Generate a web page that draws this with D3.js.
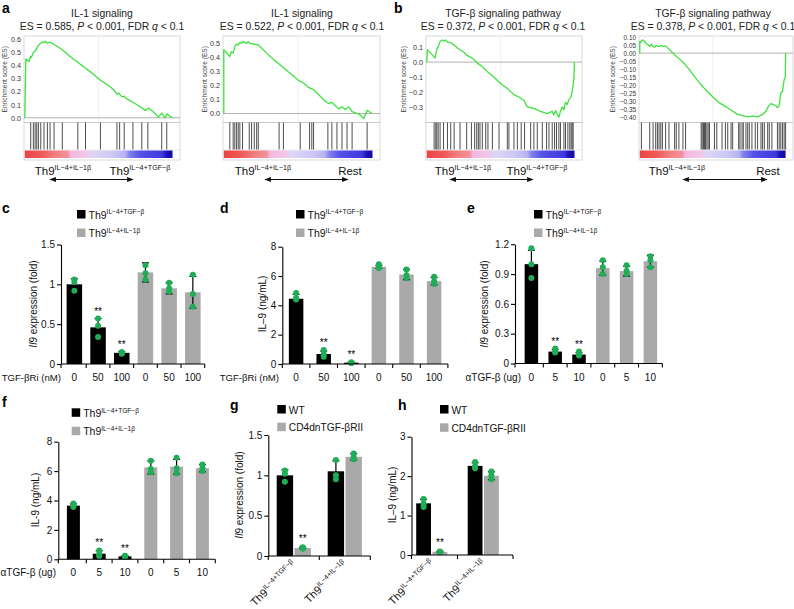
<!DOCTYPE html>
<html><head><meta charset="utf-8">
<script src="https://cdn.jsdelivr.net/npm/d3@7"></script>
<style>
body{margin:0;background:#fff;}
svg{display:block;font-family:"Liberation Sans",Arial,Helvetica,sans-serif;}
</style></head><body>
<svg id="chart" width="794" height="609"></svg>
<script>
// ===================== DATA =====================
// GSEA running enrichment score curves: [rank %, ES]
const curveA1 = [[0,0],[0.7,0.45],[2.9,0.43],[4.0,0.47],[4.5,0.46],[5.8,0.5],[7.0,0.51],[8.1,0.53],[9.2,0.555],[10.8,0.57],[11.9,0.58],[13,0.575],[14.1,0.585],[15.3,0.57],[17.1,0.578],[19.8,0.56],[22,0.545],[25.4,0.52],[28.7,0.487],[33.2,0.446],[35.9,0.425],[37.7,0.408],[41.1,0.38],[42.2,0.37],[46.7,0.33],[51.2,0.287],[55.7,0.254],[60.2,0.215],[62.4,0.18],[63.5,0.19],[65.8,0.16],[67.3,0.165],[69.1,0.144],[72.5,0.123],[75.9,0.1],[79.2,0.077],[81.5,0.056],[83.7,0.074],[87.1,0.044],[90.5,0.005],[92.7,0.036],[95,0.0],[96.1,0.03],[97.2,0.02],[100,0]];
const hitsA1 = [4.0,5.8,7.0,8.1,9.2,10.8,13.0,15.3,17.1,19.8,25.4,35.9,41.1,51.2,62.4,64.2,67.3,73.2,79.2,83.3,92.7,96.1];

const curveA2 = [[0,0],[0,0.453],[1.8,0.434],[4.05,0.405],[5.2,0.44],[6.3,0.43],[7.4,0.476],[8.6,0.495],[9.7,0.488],[10.8,0.505],[11.9,0.5],[13.1,0.514],[14.2,0.505],[15.3,0.5],[16.4,0.512],[17.6,0.5],[19.8,0.495],[23.2,0.488],[25.5,0.465],[28.8,0.43],[33.3,0.387],[37.8,0.347],[42.3,0.307],[46.8,0.269],[50.2,0.236],[53.6,0.217],[57,0.186],[60.4,0.17],[62.6,0.146],[64.9,0.123],[68.2,0.087],[70.5,0.071],[72.7,0.08],[75,0.057],[77.3,0.033],[79.5,0.047],[81.8,0.028],[84,0.047],[86.3,0.014],[88.5,0.005],[91.4,-0.007],[94.1,-0.035],[96.4,0.024],[97.5,0.014],[99.8,0]];
const hitsA2 = [4.05,6.3,7.4,8.6,9.7,10.8,12.6,17.1,18.7,20.5,22.1,23.2,37.2,40.1,51.4,57.7,59.2,60.4,70.0,72.7,76.1,79.5,82.9,86.3,96.4];

const curveB1 = [[0,0],[0.45,0.084],[5.6,0.027],[6.8,0.084],[7.9,0.107],[9.0,0.14],[10.6,0.148],[11.7,0.141],[12.8,0.148],[14.0,0.134],[16.2,0.13],[18.5,0.114],[20.7,0.095],[23.0,0.08],[25.2,0.066],[27.5,0.043],[29.7,0.034],[32.0,0.016],[34.2,-0.007],[37.6,-0.03],[41.0,-0.064],[45.5,-0.102],[50.0,-0.143],[54.5,-0.177],[59.0,-0.218],[62.4,-0.234],[65.8,-0.257],[68.0,-0.3],[72.5,-0.31],[77.0,-0.33],[81.5,-0.345],[84.9,-0.33],[86.0,-0.355],[87.2,-0.325],[88.3,-0.35],[89.4,-0.37],[90.5,-0.33],[91.7,-0.3],[92.8,-0.32],[93.9,-0.27],[95.0,-0.285],[96.2,-0.25],[97.3,-0.24],[98.4,-0.2],[99.5,-0.12],[100,0]];
const hitsB1 = [4.95,6.1,6.8,7.7,9.0,11.3,14.0,16.2,18.5,22.5,27.0,30.2,32.4,33.8,34.9,36.0,37.6,39.9,41.4,44.4,48.9,54.5,55.6,59.0,61.3,63.9,66.2,70.3,72.5,74.8,78.2,81.1,82.7,84.9,86.5,87.8,89.4,90.5,92.8,93.9,95.5,96.8,97.7,98.4,99.1];

const curveB2 = [[0,0],[0,0.072],[0.5,0.066],[1.8,0.082],[3.4,0.072],[4.6,0.057],[5.7,0.051],[6.8,0.041],[8.0,0.055],[9.1,0.041],[10.2,0.037],[11.4,0.047],[13.2,0.041],[14.8,0.047],[16.0,0.041],[17.7,0.045],[19.3,0.031],[21.6,0.01],[23.9,-0.01],[27.3,-0.037],[30.7,-0.066],[34.1,-0.103],[37.5,-0.144],[41.0,-0.185],[45.5,-0.23],[50.1,-0.271],[54.6,-0.308],[59.2,-0.332],[63.7,-0.359],[67.1,-0.379],[70.5,-0.386],[74.0,-0.394],[77.4,-0.39],[80.8,-0.394],[84.2,-0.379],[86.5,-0.359],[88.3,-0.328],[89.9,-0.312],[91.5,-0.318],[93.3,-0.324],[94.4,-0.338],[95.6,-0.324],[96.7,-0.246],[97.9,-0.236],[99.0,-0.164],[99.7,-0.154],[99.85,-0.082],[100,0]];
const hitsB2 = [1.1,6.8,9.1,10.9,12.1,13.2,14.4,15.5,17.7,20.0,23.9,25.0,26.8,29.6,31.4,42.1,42.8,43.7,44.4,45.1,46.0,46.9,47.8,51.2,52.8,56.4,58.7,60.3,62.6,63.7,67.8,68.7,70.1,71.0,72.8,74.0,75.1,76.9,79.2,80.8,83.1,84.2,85.4,87.7,88.8,90.6,94.4,95.6,96.7,97.9,99.0,100];

const esTicksA1 = [0,0.1,0.2,0.3,0.4,0.5,0.6];
const esTicksA2 = [0,0.1,0.2,0.3,0.4,0.5];
const esTicksB1 = [0.1,0,-0.1,-0.2,-0.3];
const esTicksB2 = [0.10,0.05,0,-0.05,-0.10,-0.15,-0.20,-0.25,-0.30,-0.35,-0.40];
const gseaES = ["0.585","0.522","0.372","0.378"];

// Ranked-list colour bar stops (fraction, colour)
const rankBarStops = [[0,"#ee4343"],[0.12,"#f05a5a"],[0.2,"#f27e7e"],[0.29,"#f48f9a"],[0.31,"#f5b6de"],[0.42,"#f0c8ea"],[0.46,"#dcd6f6"],[0.6,"#ccc7f5"],[0.68,"#b7b2f2"],[0.71,"#8280ef"],[0.78,"#5652e8"],[0.93,"#4038de"],[0.96,"#1d12b2"],[1,"#1208a6"]];

// Bar panels: groups 0 = Th9 IL-4+TGF-β (black), 1 = Th9 IL-4+IL-1β (gray)
const barGroups = [0,0,0,1,1,1];
const cLabels = ["0","50","100","0","50","100"];
const cMeans = [1.00,0.46,0.14,1.15,0.95,0.90];
const cErr   = [0.07,0.11,0.015,0.12,0.07,0.20];
const cDots  = [[1.06,1.03,0.92],[0.57,0.48,0.34],[0.15,0.14,0.13],[1.24,1.14,1.06],[1.02,0.95,0.91],[1.12,0.88,0.72]];
const cStars = [0,1,1,0,0,0];
const cTicks = [0,0.5,1,1.5];

const dLabels = ["0","50","100","0","50","100"];
const dMeans = [4.45,0.68,0.09,6.63,6.10,5.65];
const dErr   = [0.30,0.20,0.03,0.10,0.35,0.25];
const dDots  = [[4.85,4.5,4.4],[0.95,0.68,0.5],[0.12,0.09,0.06],[6.8,6.65,6.55],[6.45,6.05,5.85],[5.95,5.65,5.45]];
const dStars = [0,1,1,0,0,0];
const dTicks = [0,2,4,6,8];

const eLabels = ["0","5","10","0","5","10"];
const eMeans = [1.00,0.12,0.09,0.96,0.93,1.03];
const eErr   = [0.14,0.02,0.02,0.07,0.05,0.06];
const eDots  = [[1.16,1.0,0.86],[0.15,0.12,0.11],[0.12,0.09,0.08],[1.04,0.97,0.90],[0.99,0.93,0.90],[1.08,1.04,0.97]];
const eStars = [0,1,1,0,0,0];
const eTicks = [0,0.3,0.6,0.9,1.2];

const fLabels = ["0","5","10","0","5","10"];
const fMeans = [3.65,0.38,0.20,6.25,6.30,6.20];
const fErr   = [0.12,0.20,0.05,0.45,0.50,0.25];
const fDots  = [[3.8,3.65,3.55],[0.6,0.35,0.2],[0.25,0.2,0.15],[6.7,6.15,5.9],[6.9,6.2,5.85],[6.45,6.2,6.0]];
const fStars = [0,1,1,0,0,0];
const fTicks = [0,2,4,6,8];

// g / h: groups = Th9 IL-4+TGF-β, Th9 IL-4+IL-1β ; series WT (black), CD4dnTGF-βRII (gray)
const ghGroupSup = ["IL−4+TGF−β","IL−4+IL−1β"];
const gWT = [1.00,1.05], gWTErr = [0.07,0.13], gWTDots = [[1.06,1.02,0.92],[1.19,1.0,0.95]];
const gDN = [0.10,1.23], gDNErr = [0.01,0.04], gDNDots = [[0.11,0.10,0.09],[1.27,1.23,1.20]];
const gStars = [[0,0],[1,0]];
const gTicks = [0,0.5,1,1.5];
const hWT = [1.31,2.26], hWTErr = [0.10,0.08], hWTDots = [[1.42,1.30,1.22],[2.36,2.25,2.20]];
const hDN = [0.08,2.01], hDNErr = [0.01,0.10], hDNDots = [[0.09,0.08,0.07],[2.12,2.02,1.92]];
const hStars = [[0,0],[1,0]];
const hTicks = [0,1,2,3];

// ===================== DRAWING =====================
const svg = d3.select("#chart");
const defs = svg.append("defs");
const GREEN_DOT = "#1fae57";
const GRAY = "#a9a9a9";
const barColors = ["#000000", GRAY];

defs.append("marker").attr("id","arr").attr("viewBox","0 0 10 10")
  .attr("refX",9).attr("refY",5).attr("markerWidth",5.5).attr("markerHeight",5.5)
  .attr("orient","auto-start-reverse")
  .append("path").attr("d","M0,1.2 L10,5 L0,8.8 z").attr("fill","#111");

function addTh9(parent, x, y, sup, size, supSize, anchor) {
  const t = parent.append("text").attr("x", x).attr("y", y)
    .attr("font-size", size).attr("text-anchor", anchor || "start").attr("fill", "#111");
  t.append("tspan").text("Th9");
  t.append("tspan").attr("font-size", supSize).attr("dy", -size * 0.4).text(sup);
  return t;
}

function panelLetter(t, x, y) {
  svg.append("text").attr("x", x).attr("y", y).attr("font-size", 14)
    .attr("font-weight", "bold").attr("fill", "#000").text(t);
}

// ---------- GSEA panels ----------
const gseaCfg = [
  {L:24, R:180, dom:[-0.036,0.625], ticks:esTicksA1, fmt:".1f", curve:curveA1, hits:hitsA1, title:"IL-1 signaling", es:gseaES[0], tcx:102, ylx:7,
   left:{cx:63, sup:"IL−4+IL−1β"}, right:{cx:140, sup:"IL−4+TGF−β"}, arrow:[50,133]},
  {L:223, R:380, dom:[-0.064,0.552], ticks:esTicksA2, fmt:".1f", curve:curveA2, hits:hitsA2, title:"IL-1 signaling", es:gseaES[1], tcx:302, ylx:207,
   left:{cx:263, sup:"IL−4+IL−1β"}, right:{cx:350, rest:true}, arrow:[265,348]},
  {L:426, R:582, dom:[-0.405,0.175], ticks:esTicksB1, fmt:".1f", curve:curveB1, hits:hitsB1, title:"TGF-β signaling pathway", es:gseaES[2], tcx:503, ylx:405.5,
   left:{cx:463, sup:"IL−4+IL−1β"}, right:{cx:537, sup:"IL−4+TGF−β"}, arrow:[450,533]},
  {L:639, R:793, dom:[-0.429,0.106], ticks:esTicksB2, fmt:".2f", curve:curveB2, hits:hitsB2, title:"TGF-β signaling pathway", es:gseaES[3], tcx:713, ylx:615,
   left:{cx:677, sup:"IL−4+IL−1β"}, right:{cx:768, rest:true}, arrow:[683,767]}
];

const TOP = 36, ESBOT = 122.5, HITBOT = 150, CBTOP = 150.5, CBBOT = 158, BOXBOT = 160;

gseaCfg.forEach((c, k) => {
  const g = svg.append("g");
  const x = d3.scaleLinear().domain([0,100]).range([c.L + 0.8, c.L + (c.R - c.L) * 0.952]);
  const y = d3.scaleLinear().domain(c.dom).range([ESBOT, TOP]);
  g.append("rect").attr("x", c.L).attr("y", TOP).attr("width", c.R - c.L).attr("height", BOXBOT - TOP)
    .attr("fill", "none").attr("stroke", "#cfcfcf").attr("stroke-width", 0.8);
  g.append("line").attr("x1", c.L).attr("x2", c.R).attr("y1", ESBOT).attr("y2", ESBOT)
    .attr("stroke", "#bdbdbd").attr("stroke-width", 0.8);
  g.append("line").attr("x1", c.L).attr("x2", c.R).attr("y1", HITBOT).attr("y2", HITBOT)
    .attr("stroke", "#dddddd").attr("stroke-width", 0.6);
  g.append("line").attr("x1", x(50)).attr("x2", x(50)).attr("y1", TOP).attr("y2", ESBOT)
    .attr("stroke", "#ececec").attr("stroke-width", 0.8);
  g.append("line").attr("x1", c.L).attr("x2", c.R).attr("y1", y(0)).attr("y2", y(0))
    .attr("stroke", "#a8a8a8").attr("stroke-width", 0.9);
  const ax = g.append("g").attr("transform", `translate(${c.L},0)`)
    .call(d3.axisLeft(y).tickValues(c.ticks).tickFormat(d3.format(c.fmt)).tickSize(0).tickPadding(3));
  ax.select(".domain").remove();
  ax.selectAll("text").attr("font-size", c.fmt === ".2f" ? 6.4 : 7.2).attr("fill", "#333")
    .attr("font-family", '"Liberation Sans", Arial, sans-serif');
  g.append("text").attr("transform", `translate(${c.ylx},${(TOP + ESBOT) / 2}) rotate(-90)`)
    .attr("text-anchor", "middle").attr("font-size", 6.6).attr("fill", "#444").text("Enrichment score (ES)");
  g.append("path").datum(c.curve)
    .attr("d", d3.line().x(d => x(d[0])).y(d => y(d[1])))
    .attr("fill", "none").attr("stroke", "#3fe23f").attr("stroke-width", 1.3).attr("stroke-linejoin", "round");
  g.selectAll("line.hit").data(c.hits).join("line").attr("class", "hit")
    .attr("x1", d => x(d)).attr("x2", d => x(d)).attr("y1", ESBOT).attr("y2", HITBOT - 0.5)
    .attr("stroke", "#3a3a3a").attr("stroke-width", 0.9);
  const gid = "rk" + k;
  const lg = defs.append("linearGradient").attr("id", gid).attr("x1", "0").attr("x2", "1").attr("y1", "0").attr("y2", "0");
  rankBarStops.forEach(s => lg.append("stop").attr("offset", s[0]).attr("stop-color", s[1]));
  g.append("rect").attr("x", x(0)).attr("y", CBTOP).attr("width", x(100) - x(0)).attr("height", CBBOT - CBTOP)
    .attr("fill", `url(#${gid})`);
  g.append("text").attr("x", c.tcx).attr("y", 16.5).attr("text-anchor", "middle")
    .attr("font-size", 10.4).attr("fill", "#222").text(c.title);
  const t2 = g.append("text").attr("x", c.tcx).attr("y", 29.5).attr("text-anchor", "middle")
    .attr("font-size", 10.4).attr("fill", "#222");
  t2.append("tspan").text(`ES = ${c.es}, `);
  t2.append("tspan").attr("font-style", "italic").text("P");
  t2.append("tspan").text(" < 0.001, FDR ");
  t2.append("tspan").attr("font-style", "italic").text("q");
  t2.append("tspan").text(" < 0.1");
  addTh9(g, c.left.cx, 175, c.left.sup, 11.5, 7.2, "middle");
  if (c.right.rest) {
    g.append("text").attr("x", c.right.cx).attr("y", 175).attr("text-anchor", "middle")
      .attr("font-size", 11.5).attr("fill", "#111").text("Rest");
  } else {
    addTh9(g, c.right.cx, 175, c.right.sup, 11.5, 7.2, "middle");
  }
  g.append("line").attr("x1", c.arrow[0]).attr("x2", c.arrow[1]).attr("y1", 179.5).attr("y2", 179.5)
    .attr("stroke", "#111").attr("stroke-width", 1.2)
    .attr("marker-start", "url(#arr)").attr("marker-end", "url(#arr)");
});

// ---------- bar panels ----------
function styleAxis(ax) {
  ax.selectAll("path,line").attr("stroke", "#000").attr("stroke-width", 1.1);
  ax.selectAll("text").attr("font-size", 10).attr("fill", "#111")
    .attr("font-family", '"Liberation Sans", Arial, sans-serif');
}

function legend(x, y, items) {
  const g = svg.append("g");
  items.forEach((it, i) => {
    const yy = y + i * it.step;
    g.append("rect").attr("x", x).attr("y", yy).attr("width", 8.5).attr("height", 8.5).attr("fill", it.color);
    if (it.sup) addTh9(g, x + 11.5, yy + 8.5, it.sup, 10.5, 6.6, "start");
    else g.append("text").attr("x", x + 11.5).attr("y", yy + 8.5).attr("font-size", 10.2).attr("fill", "#111").text(it.text);
  });
}

function yTitle(x, y, parts) {
  const t = svg.append("text").attr("transform", `translate(${x},${y}) rotate(-90)`)
    .attr("text-anchor", "middle").attr("font-size", 10).attr("fill", "#111");
  parts.forEach(p => t.append("tspan").attr("font-style", p.it ? "italic" : "normal").text(p.t));
}

function starText(g, x, y) {
  g.append("text").attr("x", x).attr("y", y).attr("text-anchor", "middle")
    .attr("font-size", 10).attr("fill", "#000").text("**");
}

function barPanel(o) {
  const g = svg.append("g");
  const n = o.means.length;
  const x = d3.scaleBand().domain(d3.range(n)).range([o.bandStart, o.bandStart + o.bw * n]);
  const y = d3.scaleLinear().domain(o.yDomain).range([o.y0, o.yTop]);
  const cx = i => x(i) + x.bandwidth() / 2;
  g.selectAll("rect.bar").data(o.means).join("rect").attr("class", "bar")
    .attr("x", (d, i) => cx(i) - o.barW / 2).attr("y", d => y(d))
    .attr("width", o.barW).attr("height", d => o.y0 - y(d))
    .attr("fill", (d, i) => barColors[o.groups[i]]);
  o.means.forEach((m, i) => {
    const e = o.err[i];
    g.append("line").attr("x1", cx(i)).attr("x2", cx(i)).attr("y1", y(Math.max(0, m - e))).attr("y2", y(m + e))
      .attr("stroke", "#000").attr("stroke-width", 1.2);
    [Math.max(0, m - e), m + e].forEach(v => g.append("line").attr("x1", cx(i) - 3.5).attr("x2", cx(i) + 3.5)
      .attr("y1", y(v)).attr("y2", y(v)).attr("stroke", "#000").attr("stroke-width", 1.2));
  });
  o.dots.forEach((arr, i) => arr.forEach(v => g.append("circle").attr("cx", cx(i)).attr("cy", y(v)).attr("r", 3)
    .attr("fill", GREEN_DOT)));
  o.stars.forEach((s, i) => {
    if (!s) return;
    const top = Math.max(d3.max(o.dots[i]), o.means[i] + o.err[i]);
    starText(g, cx(i), y(top) - 4);
  });
  const ax = g.append("g").attr("transform", `translate(${o.yAxisX},0)`)
    .call(d3.axisLeft(y).tickValues(o.yTicks).tickFormat(o.yFmt).tickSize(4).tickSizeOuter(0).tickPadding(2));
  styleAxis(ax);
  g.append("line").attr("x1", o.yAxisX).attr("x2", o.axisEnd).attr("y1", o.y0).attr("y2", o.y0)
    .attr("stroke", "#000").attr("stroke-width", 1.1);
  const tks = [o.yAxisX].concat(d3.range(1, n + 1).map(i => o.bandStart + i * o.bw));
  g.selectAll("line.xt").data(tks).join("line").attr("class", "xt")
    .attr("x1", d => d).attr("x2", d => d).attr("y1", o.y0).attr("y2", o.y0 + 4)
    .attr("stroke", "#000").attr("stroke-width", 1.1);
  o.labels.forEach((l, i) => g.append("text").attr("x", cx(i)).attr("y", o.labY).attr("text-anchor", "middle")
    .attr("font-size", 10).attr("fill", "#111").text(l));
  g.append("text").attr("x", o.xTitleEnd).attr("y", o.labY).attr("text-anchor", "end")
    .attr("font-size", o.xTitleSize || 10).attr("fill", "#111").text(o.xTitle);
}

function groupPanel(o) {
  const g = svg.append("g");
  const x = d3.scaleBand().domain(d3.range(2)).range([o.bandStart, o.bandStart + o.bw * 2]);
  const y = d3.scaleLinear().domain(o.yDomain).range([o.y0, o.yTop]);
  const cx = i => x(i) + x.bandwidth() / 2;
  const series = [
    {m: o.wt, e: o.wtErr, d: o.wtDots, c: "#000", off: -o.gap / 2 - o.barW / 2},
    {m: o.dn, e: o.dnErr, d: o.dnDots, c: GRAY, off: o.gap / 2 + o.barW / 2}
  ];
  series.forEach(s => {
    s.m.forEach((m, i) => {
      const bx = cx(i) + s.off;
      g.append("rect").attr("x", bx - o.barW / 2).attr("y", y(m)).attr("width", o.barW)
        .attr("height", o.y0 - y(m)).attr("fill", s.c);
      const e = s.e[i];
      g.append("line").attr("x1", bx).attr("x2", bx).attr("y1", y(Math.max(0, m - e))).attr("y2", y(m + e))
        .attr("stroke", "#000").attr("stroke-width", 1.2);
      [Math.max(0, m - e), m + e].forEach(v => g.append("line").attr("x1", bx - 3.5).attr("x2", bx + 3.5)
        .attr("y1", y(v)).attr("y2", y(v)).attr("stroke", "#000").attr("stroke-width", 1.2));
    });
  });
  series.forEach((s, si) => {
    s.d.forEach((arr, i) => arr.forEach(v => g.append("circle").attr("cx", cx(i) + s.off).attr("cy", y(v))
      .attr("r", 3).attr("fill", GREEN_DOT)));
    s.m.forEach((m, i) => {
      if (!o.stars[si][i]) return;
      const top = Math.max(d3.max(s.d[i]), m + s.e[i]);
      starText(g, cx(i) + s.off, y(top) - 5);
    });
  });
  const ax = g.append("g").attr("transform", `translate(${o.yAxisX},0)`)
    .call(d3.axisLeft(y).tickValues(o.yTicks).tickFormat(o.yFmt).tickSize(4).tickSizeOuter(0).tickPadding(2));
  styleAxis(ax);
  g.append("line").attr("x1", o.yAxisX).attr("x2", o.axisEnd).attr("y1", o.y0).attr("y2", o.y0)
    .attr("stroke", "#000").attr("stroke-width", 1.1);
  [o.yAxisX, (cx(0) + cx(1)) / 2, o.axisEnd].forEach(t => g.append("line").attr("x1", t).attr("x2", t)
    .attr("y1", o.y0).attr("y2", o.y0 + 4).attr("stroke", "#000").attr("stroke-width", 1.1));
  ghGroupSup.forEach((sup, i) => {
    const ax0 = cx(i) + 3, ay0 = o.y0 + 9;
    const t = g.append("g").attr("transform", `translate(${ax0},${ay0}) rotate(-45)`);
    addTh9(t, 0, 0, sup, 11, 7, "end");
  });
}

// ---- Row 2 ----
panelLetter("c", 2, 213);
legend(77, 210, [{color:"#000", sup:"IL−4+TGF−β", step:18.5}, {color:GRAY, sup:"IL−4+IL−1β", step:18.5}]);
barPanel({means:cMeans, err:cErr, dots:cDots, stars:cStars, groups:barGroups, labels:cLabels,
  bandStart:62.5, bw:23.7, barW:15.5, yAxisX:61, axisEnd:62.5 + 6 * 23.7,
  yDomain:[0,1.5], y0:364, yTop:244.5, yTicks:cTicks, yFmt:d3.format("~g"),
  labY:380.5, xTitle:"TGF-βRi (nM)", xTitleEnd:61, xTitleSize:9.6});
yTitle(37, 304, [{t:"Il9", it:true}, {t:" expression (fold)"}]);

panelLetter("d", 220, 213);
legend(296, 210, [{color:"#000", sup:"IL−4+TGF−β", step:18.5}, {color:GRAY, sup:"IL−4+IL−1β", step:18.5}]);
barPanel({means:dMeans, err:dErr, dots:dDots, stars:dStars, groups:barGroups, labels:dLabels,
  bandStart:282.3, bw:27.6, barW:14.5, yAxisX:282.3, axisEnd:282.3 + 6 * 27.6,
  yDomain:[0,8], y0:364, yTop:246.7, yTicks:dTicks, yFmt:d3.format("d"),
  labY:380.5, xTitle:"TGF-βRi (nM)", xTitleEnd:279, xTitleSize:9.6});
yTitle(266, 304, [{t:"IL–9 (ng/mL)"}]);

panelLetter("e", 467, 213);
legend(534, 210, [{color:"#000", sup:"IL−4+TGF−β", step:18.5}, {color:GRAY, sup:"IL−4+IL−1β", step:18.5}]);
barPanel({means:eMeans, err:eErr, dots:eDots, stars:eStars, groups:barGroups, labels:eLabels,
  bandStart:519.5, bw:23.8, barW:13.5, yAxisX:515, axisEnd:519.5 + 6 * 23.8,
  yDomain:[0,1.2], y0:363.5, yTop:244.3, yTicks:eTicks, yFmt:d3.format(".1~f"),
  labY:380.5, xTitle:"αTGF-β (ug)", xTitleEnd:521});
yTitle(488, 304, [{t:"Il9", it:true}, {t:" expression (fold)"}]);

// ---- Row 3 ----
panelLetter("f", 2, 407);
legend(71.7, 408.3, [{color:"#000", sup:"IL−4+TGF−β", step:18.4}, {color:GRAY, sup:"IL−4+IL−1β", step:18.4}]);
barPanel({means:fMeans, err:fErr, dots:fDots, stars:fStars, groups:barGroups, labels:fLabels,
  bandStart:60.5, bw:25.8, barW:13, yAxisX:58.3, axisEnd:60.5 + 6 * 25.8,
  yDomain:[0,8], y0:559.3, yTop:441.7, yTicks:fTicks, yFmt:d3.format("d"),
  labY:575.5, xTitle:"αTGF-β (ug)", xTitleEnd:56});
yTitle(39, 500, [{t:"IL-9 (ng/mL)"}]);

panelLetter("g", 230, 410);
legend(277.3, 405, [{color:"#000", text:"WT", step:17.7}, {color:GRAY, text:"CD4dnTGF-βRII", step:17.7}]);
groupPanel({wt:gWT, wtErr:gWTErr, wtDots:gWTDots, dn:gDN, dnErr:gDNErr, dnDots:gDNDots, stars:gStars,
  bandStart:268.3, bw:51, barW:16.4, gap:1.4, yAxisX:268.3, axisEnd:370.3,
  yDomain:[0,1.5], y0:556, yTop:435, yTicks:gTicks, yFmt:d3.format("~g")});
yTitle(243, 495, [{t:"Il9", it:true}, {t:" expression (fold)"}]);

panelLetter("h", 398, 410);
legend(440, 405, [{color:"#000", text:"WT", step:18.3}, {color:GRAY, text:"CD4dnTGF-βRII", step:18.3}]);
groupPanel({wt:hWT, wtErr:hWTErr, wtDots:hWTDots, dn:hDN, dnErr:hDNErr, dnDots:hDNDots, stars:hStars,
  bandStart:406, bw:51.5, barW:14.8, gap:1.5, yAxisX:411.5, axisEnd:513,
  yDomain:[0,3], y0:555, yTop:436.7, yTicks:hTicks, yFmt:d3.format("d")});
yTitle(396, 495, [{t:"IL–9 (ng/mL)"}]);

panelLetter("a", 2, 13);
panelLetter("b", 394, 13);
</script></body></html>
